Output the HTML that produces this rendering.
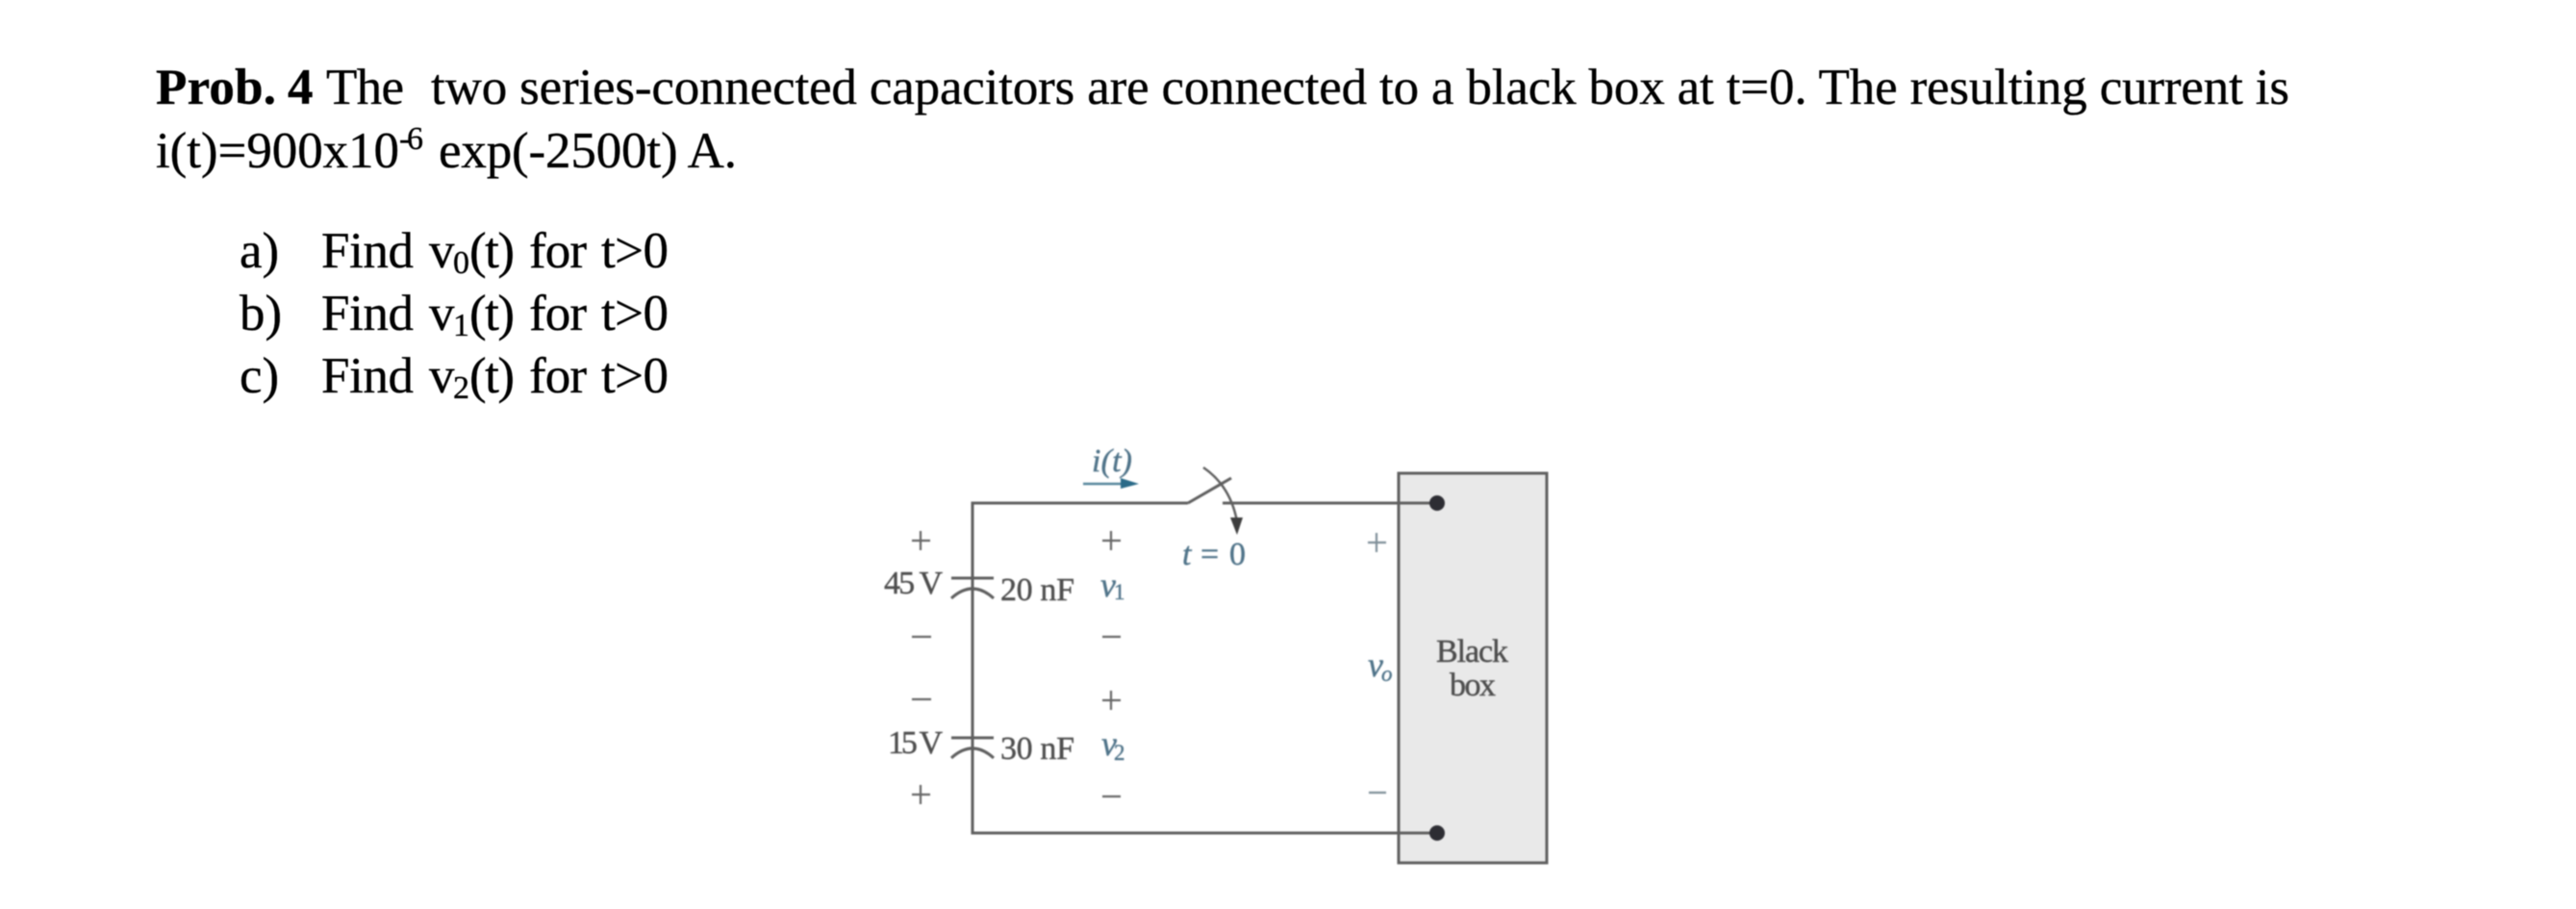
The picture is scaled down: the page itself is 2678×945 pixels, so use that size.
<!DOCTYPE html>
<html lang="en">
<head>
<meta charset="utf-8">
<title>Prob. 4</title>
<style>
html,body{margin:0;padding:0;background:#fff;width:2678px;height:945px;overflow:hidden}
svg{display:block}
.t{font-family:"Liberation Serif",serif;fill:#000;stroke:#000;stroke-width:.35px}
.m{font-size:53px}
.c{font-family:"Liberation Serif",serif;fill:#4d4d4d;stroke:#4d4d4d;stroke-width:.4px}
.b{fill:#4f7389;stroke:#4f7389;font-style:italic}
</style>
</head>
<body>
<svg width="2678" height="945" viewBox="0 0 2678 945" xmlns="http://www.w3.org/2000/svg">
<rect width="2678" height="945" fill="#fff"/>
<g class="t m" style="filter:blur(.45px)">
  <text x="162" y="108" font-weight="bold" textLength="125" lengthAdjust="spacing">Prob.</text>
  <text x="299" y="108" font-weight="bold">4</text>
  <text x="339" y="108" textLength="81" lengthAdjust="spacing">The</text>
  <text x="448" y="108" textLength="1932" lengthAdjust="spacing">two series-connected capacitors are connected to a black box at t=0. The resulting current is</text>
  <text x="162" y="174" textLength="253" lengthAdjust="spacing">i(t)=900x10</text>
  <text x="415" y="155" font-size="34" textLength="25" lengthAdjust="spacing">-6</text>
  <text x="456" y="174" textLength="310" lengthAdjust="spacing">exp(-2500t) A.</text>

  <text x="249" y="278">a)</text>
  <text x="334" y="278" textLength="96" lengthAdjust="spacing">Find</text>
  <text x="446" y="278">v</text>
  <text x="471" y="284" font-size="34">0</text>
  <text x="488" y="278" textLength="47" lengthAdjust="spacing">(t)</text>
  <text x="550" y="278" textLength="60" lengthAdjust="spacing">for</text>
  <text x="625" y="278" textLength="70" lengthAdjust="spacing">t&gt;0</text>

  <text x="249" y="343">b)</text>
  <text x="334" y="343" textLength="96" lengthAdjust="spacing">Find</text>
  <text x="446" y="343">v</text>
  <text x="471" y="349" font-size="34">1</text>
  <text x="488" y="343" textLength="47" lengthAdjust="spacing">(t)</text>
  <text x="550" y="343" textLength="60" lengthAdjust="spacing">for</text>
  <text x="625" y="343" textLength="70" lengthAdjust="spacing">t&gt;0</text>

  <text x="249" y="408">c)</text>
  <text x="334" y="408" textLength="96" lengthAdjust="spacing">Find</text>
  <text x="446" y="408">v</text>
  <text x="471" y="414" font-size="34">2</text>
  <text x="488" y="408" textLength="47" lengthAdjust="spacing">(t)</text>
  <text x="550" y="408" textLength="60" lengthAdjust="spacing">for</text>
  <text x="625" y="408" textLength="70" lengthAdjust="spacing">t&gt;0</text>
</g>

<g style="filter:blur(.8px)">
  <rect x="1454" y="492" width="154" height="405" fill="#e9e9e9" stroke="#5f5f5f" stroke-width="3"/>
  <g fill="none" stroke="#5f5f5f" stroke-width="3">
    <path d="M1235 523H1011V866H1494"/>
    <path d="M1235 523L1280 497"/>
    <path d="M1271 523H1494"/>
    <path d="M1251 486Q1279 505 1286 542" stroke-width="2.5"/>
    <path d="M989 601H1033M989 622Q1011 602 1033 622"/>
    <path d="M989 767H1033M989 788Q1011 768 1033 788"/>
  </g>
  <path d="M1279 538L1292 538L1286 556Z" fill="#3d3d3d"/>
  <circle cx="1494" cy="523" r="8" fill="#2d2d33"/>
  <circle cx="1494" cy="866" r="8" fill="#2d2d33"/>
  <path d="M1126 503H1170" stroke="#55859c" stroke-width="2.5"/>
  <path d="M1165 497L1184 503L1165 508Z" fill="#2a6a88"/>
  <g stroke="#666" stroke-width="2.2" fill="none">
    <path d="M948 562H967M957 552V572"/>
    <path d="M948 662H968"/>
    <path d="M1146 562H1165M1155 552V572"/>
    <path d="M1146 662H1165"/>
    <path d="M948 727H968"/>
    <path d="M948 826H967M957 816V836"/>
    <path d="M1146 728H1165M1155 718V738"/>
    <path d="M1146 828H1165"/>
    <path d="M1422 564H1441M1431 554V574" stroke="#7f8f99"/>
    <path d="M1423 824H1441" stroke="#7f8f99"/>
  </g>
  <g class="c" font-size="34">
    <text x="919" y="617" textLength="61" lengthAdjust="spacing">45 V</text>
    <text x="1040" y="624" textLength="77" lengthAdjust="spacing">20 nF</text>
    <text x="923" y="783" textLength="57" lengthAdjust="spacing">15 V</text>
    <text x="1040" y="789" textLength="77" lengthAdjust="spacing">30 nF</text>
    <text x="1493" y="688" textLength="75" lengthAdjust="spacing">Black</text>
    <text x="1507" y="723" textLength="48" lengthAdjust="spacing">box</text>
    <text class="b" x="1135" y="490" font-size="34" textLength="42" lengthAdjust="spacing">i(t)</text>
    <text class="b" x="1229" y="587" font-size="34">t</text>
    <text class="b" x="1248" y="587" font-size="34" style="font-style:normal">=</text>
    <text class="b" x="1278" y="587" font-size="34" style="font-style:normal">0</text>
    <text class="b" x="1144" y="620" font-size="36">v</text>
    <text class="b" x="1158" y="623" font-size="23" style="font-style:normal">1</text>
    <text class="b" x="1145" y="785" font-size="36">v</text>
    <text class="b" x="1158" y="790" font-size="23" style="font-style:normal">2</text>
    <text class="b" x="1422" y="703" font-size="36">v</text>
    <text class="b" x="1436" y="708" font-size="23">o</text>
  </g>
</g>
</svg>
</body>
</html>
